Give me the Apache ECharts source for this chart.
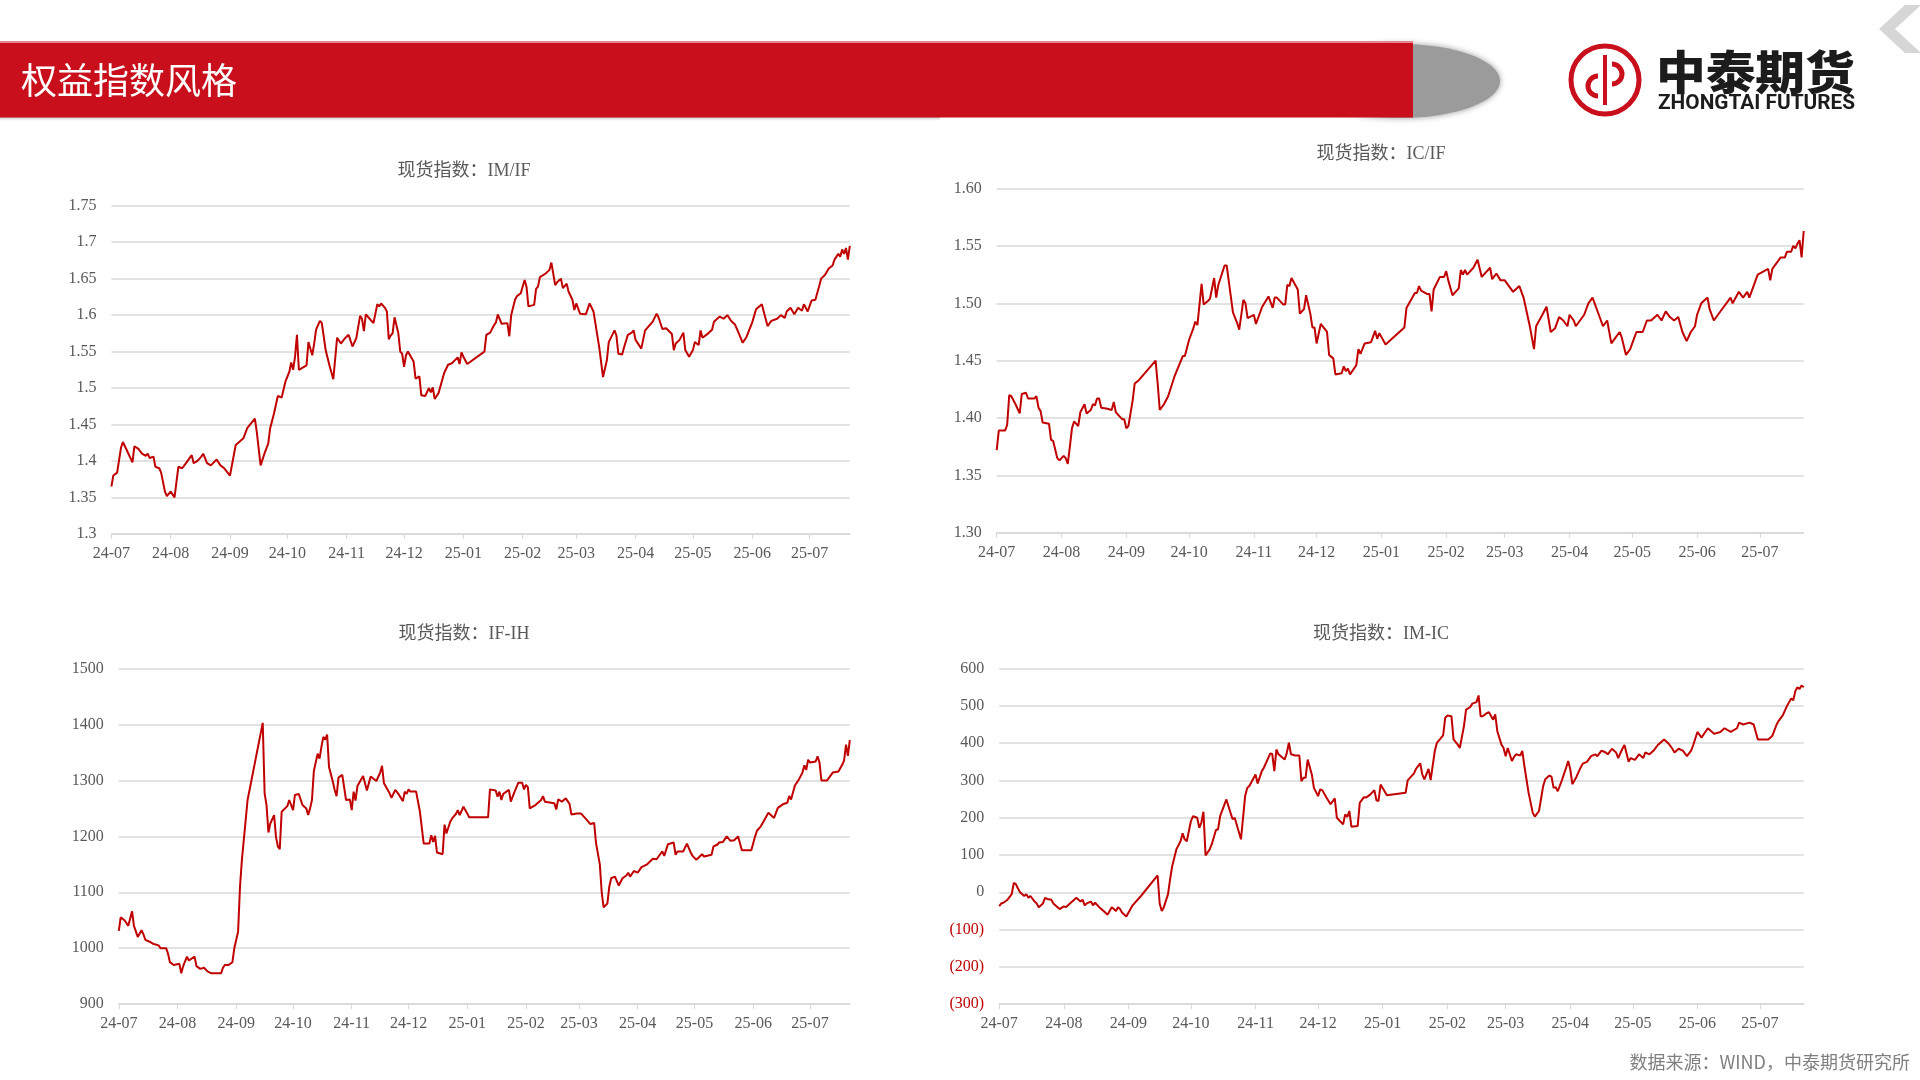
<!DOCTYPE html>
<html><head><meta charset="utf-8">
<script src="https://cdn.jsdelivr.net/npm/echarts@6/dist/echarts.min.js"></script>
<style>html,body{margin:0;padding:0;background:#fff}#c{width:1920px;height:1080px}</style>
</head><body><div id="c"></div>
<script>
// ---------------- data ----------------
const tickDates = ['2024-07-24','2024-08-24','2024-09-24','2024-10-24','2024-11-24','2024-12-24','2025-01-24','2025-02-24','2025-03-24','2025-04-24','2025-05-24','2025-06-24','2025-07-24'];
const axisStart = '2024-07-24';
const axisEnd = '2025-08-14';

const chartTitles = ['现货指数：IM/IF','现货指数：IC/IF','现货指数：IF-IH','现货指数：IM-IC'];

const IMIF = [['2024-07-24',1.365],['2024-07-25',1.380],['2024-07-27',1.384],['2024-07-29',1.418],['2024-07-30',1.426],['2024-08-01',1.415],['2024-08-04',1.398],['2024-08-05',1.420],['2024-08-07',1.417],['2024-08-09',1.410],['2024-08-11',1.407],['2024-08-12',1.410],['2024-08-13',1.404],['2024-08-15',1.406],['2024-08-16',1.392],['2024-08-18',1.390],['2024-08-19',1.384],['2024-08-21',1.358],['2024-08-22',1.352],['2024-08-24',1.358],['2024-08-26',1.350],['2024-08-28',1.392],['2024-08-30',1.390],['2024-09-01',1.397],['2024-09-04',1.408],['2024-09-05',1.397],['2024-09-07',1.400],['2024-09-09',1.406],['2024-09-10',1.410],['2024-09-12',1.397],['2024-09-14',1.394],['2024-09-17',1.402],['2024-09-19',1.394],['2024-09-21',1.390],['2024-09-24',1.380],['2024-09-27',1.422],['2024-10-01',1.431],['2024-10-03',1.445],['2024-10-07',1.458],['2024-10-08',1.440],['2024-10-10',1.394],['2024-10-12',1.410],['2024-10-14',1.424],['2024-10-15',1.445],['2024-10-17',1.465],['2024-10-19',1.489],['2024-10-21',1.487],['2024-10-22',1.488],['2024-10-23',1.509],['2024-10-25',1.522],['2024-10-26',1.535],['2024-10-27',1.525],['2024-10-28',1.543],['2024-10-29',1.573],['2024-10-30',1.525],['2024-11-03',1.531],['2024-11-04',1.563],['2024-11-06',1.545],['2024-11-07',1.561],['2024-11-08',1.580],['2024-11-10',1.592],['2024-11-11',1.589],['2024-11-13',1.552],['2024-11-15',1.531],['2024-11-17',1.512],['2024-11-19',1.569],['2024-11-20',1.570],['2024-11-21',1.561],['2024-11-23',1.568],['2024-11-25',1.573],['2024-11-27',1.557],['2024-11-29',1.568],['2024-12-01',1.599],['2024-12-02',1.595],['2024-12-03',1.578],['2024-12-04',1.601],['2024-12-06',1.595],['2024-12-08',1.589],['2024-12-10',1.615],['2024-12-11',1.612],['2024-12-12',1.616],['2024-12-14',1.610],['2024-12-15',1.605],['2024-12-16',1.567],['2024-12-17',1.572],['2024-12-18',1.575],['2024-12-19',1.597],['2024-12-21',1.575],['2024-12-22',1.550],['2024-12-23',1.547],['2024-12-24',1.529],['2024-12-25',1.545],['2024-12-26',1.550],['2024-12-28',1.541],['2024-12-29',1.536],['2024-12-30',1.513],['2025-01-01',1.516],['2025-01-02',1.490],['2025-01-04',1.489],['2025-01-06',1.500],['2025-01-07',1.494],['2025-01-08',1.501],['2025-01-09',1.485],['2025-01-11',1.493],['2025-01-14',1.521],['2025-01-15',1.523],['2025-01-16',1.532],['2025-01-18',1.534],['2025-01-19',1.535],['2025-01-21',1.542],['2025-01-22',1.533],['2025-01-23',1.549],['2025-01-24',1.543],['2025-01-26',1.533],['2025-02-04',1.550],['2025-02-05',1.573],['2025-02-07',1.576],['2025-02-09',1.586],['2025-02-10',1.590],['2025-02-11',1.601],['2025-02-13',1.588],['2025-02-14',1.586],['2025-02-16',1.589],['2025-02-17',1.571],['2025-02-18',1.600],['2025-02-20',1.621],['2025-02-21',1.626],['2025-02-23',1.630],['2025-02-25',1.648],['2025-02-26',1.639],['2025-02-27',1.612],['2025-03-02',1.614],['2025-03-03',1.636],['2025-03-04',1.639],['2025-03-05',1.652],['2025-03-06',1.652],['2025-03-08',1.657],['2025-03-10',1.662],['2025-03-11',1.672],['2025-03-13',1.641],['2025-03-14',1.645],['2025-03-16',1.650],['2025-03-17',1.637],['2025-03-19',1.643],['2025-03-20',1.632],['2025-03-22',1.621],['2025-03-23',1.607],['2025-03-24',1.616],['2025-03-26',1.602],['2025-03-29',1.601],['2025-03-31',1.616],['2025-04-02',1.605],['2025-04-05',1.556],['2025-04-07',1.515],['2025-04-09',1.538],['2025-04-10',1.563],['2025-04-13',1.579],['2025-04-14',1.572],['2025-04-15',1.547],['2025-04-16',1.548],['2025-04-17',1.546],['2025-04-18',1.556],['2025-04-20',1.573],['2025-04-22',1.576],['2025-04-23',1.579],['2025-04-24',1.566],['2025-04-25',1.568],['2025-04-27',1.554],['2025-04-29',1.579],['2025-05-03',1.591],['2025-05-05',1.602],['2025-05-06',1.597],['2025-05-07',1.597],['2025-05-08',1.581],['2025-05-10',1.582],['2025-05-11',1.583],['2025-05-13',1.574],['2025-05-14',1.552],['2025-05-15',1.561],['2025-05-17',1.566],['2025-05-19',1.576],['2025-05-20',1.552],['2025-05-22',1.543],['2025-05-24',1.552],['2025-05-25',1.563],['2025-05-27',1.559],['2025-05-28',1.579],['2025-05-29',1.569],['2025-06-01',1.575],['2025-06-03',1.580],['2025-06-04',1.591],['2025-06-05',1.590],['2025-06-07',1.598],['2025-06-09',1.595],['2025-06-11',1.600],['2025-06-13',1.592],['2025-06-15',1.587],['2025-06-17',1.575],['2025-06-19',1.562],['2025-06-21',1.570],['2025-06-24',1.590],['2025-06-26',1.608],['2025-06-29',1.615],['2025-07-01',1.595],['2025-07-02',1.585],['2025-07-04',1.592],['2025-07-07',1.595],['2025-07-09',1.600],['2025-07-11',1.596],['2025-07-12',1.605],['2025-07-14',1.610],['2025-07-16',1.601],['2025-07-18',1.610],['2025-07-20',1.606],['2025-07-21',1.615],['2025-07-23',1.605],['2025-07-25',1.620],['2025-07-27',1.621],['2025-07-29',1.640],['2025-07-30',1.650],['2025-08-01',1.655],['2025-08-03',1.664],['2025-08-05',1.668],['2025-08-06',1.676],['2025-08-08',1.684],['2025-08-09',1.680],['2025-08-10',1.690],['2025-08-11',1.684],['2025-08-12',1.692],['2025-08-13',1.676],['2025-08-14',1.695]];

const ICIF = [['2024-07-24',1.372],['2024-07-25',1.389],['2024-07-28',1.389],['2024-07-29',1.394],['2024-07-30',1.420],['2024-07-31',1.419],['2024-08-02',1.412],['2024-08-04',1.404],['2024-08-05',1.421],['2024-08-07',1.422],['2024-08-08',1.417],['2024-08-11',1.417],['2024-08-12',1.419],['2024-08-13',1.409],['2024-08-14',1.406],['2024-08-15',1.396],['2024-08-18',1.395],['2024-08-19',1.381],['2024-08-20',1.380],['2024-08-22',1.365],['2024-08-23',1.363],['2024-08-25',1.367],['2024-08-26',1.365],['2024-08-27',1.360],['2024-08-28',1.375],['2024-08-29',1.391],['2024-08-30',1.397],['2024-09-01',1.393],['2024-09-02',1.405],['2024-09-04',1.412],['2024-09-05',1.404],['2024-09-07',1.407],['2024-09-08',1.412],['2024-09-09',1.411],['2024-09-10',1.417],['2024-09-11',1.417],['2024-09-12',1.409],['2024-09-15',1.408],['2024-09-17',1.407],['2024-09-18',1.414],['2024-09-19',1.405],['2024-09-20',1.403],['2024-09-22',1.399],['2024-09-23',1.399],['2024-09-24',1.391],['2024-09-25',1.393],['2024-09-27',1.415],['2024-09-28',1.430],['2024-09-30',1.433],['2024-10-08',1.450],['2024-10-09',1.430],['2024-10-10',1.407],['2024-10-12',1.412],['2024-10-14',1.419],['2024-10-17',1.436],['2024-10-21',1.454],['2024-10-22',1.454],['2024-10-24',1.468],['2024-10-26',1.478],['2024-10-27',1.484],['2024-10-28',1.481],['2024-10-30',1.517],['2024-10-31',1.499],['2024-11-02',1.502],['2024-11-03',1.504],['2024-11-05',1.522],['2024-11-06',1.505],['2024-11-07',1.516],['2024-11-10',1.533],['2024-11-11',1.533],['2024-11-14',1.492],['2024-11-16',1.483],['2024-11-17',1.477],['2024-11-19',1.503],['2024-11-20',1.500],['2024-11-21',1.487],['2024-11-24',1.490],['2024-11-25',1.482],['2024-11-26',1.487],['2024-11-28',1.497],['2024-12-01',1.506],['2024-12-03',1.496],['2024-12-04',1.505],['2024-12-05',1.505],['2024-12-08',1.499],['2024-12-09',1.499],['2024-12-10',1.516],['2024-12-11',1.515],['2024-12-12',1.522],['2024-12-15',1.512],['2024-12-16',1.491],['2024-12-18',1.495],['2024-12-19',1.507],['2024-12-21',1.491],['2024-12-22',1.479],['2024-12-23',1.479],['2024-12-24',1.465],['2024-12-26',1.482],['2024-12-29',1.475],['2024-12-30',1.455],['2025-01-01',1.452],['2025-01-02',1.438],['2025-01-05',1.439],['2025-01-06',1.445],['2025-01-07',1.441],['2025-01-08',1.443],['2025-01-09',1.438],['2025-01-12',1.446],['2025-01-13',1.460],['2025-01-14',1.456],['2025-01-16',1.465],['2025-01-19',1.466],['2025-01-21',1.476],['2025-01-22',1.469],['2025-01-23',1.474],['2025-01-26',1.464],['2025-02-04',1.479],['2025-02-05',1.496],['2025-02-09',1.509],['2025-02-10',1.509],['2025-02-11',1.515],['2025-02-12',1.511],['2025-02-15',1.508],['2025-02-16',1.508],['2025-02-17',1.493],['2025-02-18',1.512],['2025-02-21',1.523],['2025-02-23',1.523],['2025-02-24',1.528],['2025-02-25',1.520],['2025-02-27',1.507],['2025-03-02',1.513],['2025-03-03',1.529],['2025-03-04',1.525],['2025-03-05',1.529],['2025-03-06',1.525],['2025-03-09',1.531],['2025-03-11',1.538],['2025-03-13',1.523],['2025-03-17',1.531],['2025-03-18',1.521],['2025-03-20',1.526],['2025-03-22',1.520],['2025-03-24',1.520],['2025-03-28',1.510],['2025-03-31',1.515],['2025-04-02',1.505],['2025-04-05',1.480],['2025-04-07',1.460],['2025-04-08',1.480],['2025-04-11',1.490],['2025-04-13',1.497],['2025-04-15',1.475],['2025-04-17',1.478],['2025-04-19',1.488],['2025-04-21',1.485],['2025-04-23',1.480],['2025-04-24',1.490],['2025-04-26',1.485],['2025-04-27',1.480],['2025-05-01',1.490],['2025-05-03',1.500],['2025-05-05',1.505],['2025-05-08',1.490],['2025-05-10',1.480],['2025-05-12',1.485],['2025-05-14',1.465],['2025-05-16',1.470],['2025-05-18',1.475],['2025-05-19',1.470],['2025-05-21',1.455],['2025-05-23',1.460],['2025-05-25',1.470],['2025-05-26',1.475],['2025-05-29',1.475],['2025-05-31',1.485],['2025-06-02',1.485],['2025-06-05',1.490],['2025-06-07',1.485],['2025-06-09',1.493],['2025-06-11',1.488],['2025-06-13',1.485],['2025-06-15',1.488],['2025-06-17',1.475],['2025-06-19',1.467],['2025-06-21',1.475],['2025-06-23',1.480],['2025-06-24',1.490],['2025-06-26',1.500],['2025-06-29',1.505],['2025-06-30',1.495],['2025-07-02',1.485],['2025-07-04',1.490],['2025-07-06',1.495],['2025-07-08',1.500],['2025-07-10',1.505],['2025-07-11',1.500],['2025-07-14',1.510],['2025-07-16',1.505],['2025-07-18',1.510],['2025-07-19',1.505],['2025-07-21',1.515],['2025-07-23',1.525],['2025-07-26',1.528],['2025-07-28',1.530],['2025-07-29',1.520],['2025-07-30',1.530],['2025-08-01',1.535],['2025-08-03',1.540],['2025-08-05',1.540],['2025-08-06',1.545],['2025-08-08',1.545],['2025-08-09',1.550],['2025-08-10',1.548],['2025-08-11',1.552],['2025-08-12',1.555],['2025-08-13',1.540],['2025-08-14',1.563]];

const IFIH = [['2024-07-24',1031],['2024-07-25',1055],['2024-07-27',1050],['2024-07-28',1045],['2024-07-29',1040],['2024-07-31',1066],['2024-08-01',1040],['2024-08-02',1030],['2024-08-03',1020],['2024-08-05',1032],['2024-08-06',1025],['2024-08-07',1015],['2024-08-09',1012],['2024-08-10',1015],['2024-08-11',1008],['2024-08-12',1010],['2024-08-14',1005],['2024-08-15',1000],['2024-08-18',1000],['2024-08-19',990],['2024-08-20',975],['2024-08-22',970],['2024-08-23',973],['2024-08-25',972],['2024-08-26',955],['2024-08-27',968],['2024-08-29',985],['2024-08-30',978],['2024-08-31',975],['2024-09-02',985],['2024-09-03',968],['2024-09-04',970],['2024-09-05',963],['2024-09-07',965],['2024-09-08',965],['2024-09-09',958],['2024-09-11',955],['2024-09-13',955],['2024-09-14',953],['2024-09-16',955],['2024-09-17',965],['2024-09-18',970],['2024-09-20',970],['2024-09-22',975],['2024-09-23',1000],['2024-09-25',1030],['2024-09-26',1110],['2024-09-27',1158],['2024-09-30',1265],['2024-10-08',1403],['2024-10-09',1277],['2024-10-10',1256],['2024-10-11',1207],['2024-10-12',1223],['2024-10-14',1238],['2024-10-15',1199],['2024-10-16',1182],['2024-10-17',1177],['2024-10-18',1244],['2024-10-19',1247],['2024-10-21',1254],['2024-10-22',1265],['2024-10-23',1265],['2024-10-24',1247],['2024-10-25',1274],['2024-10-27',1276],['2024-10-28',1278],['2024-10-29',1256],['2024-10-30',1256],['2024-10-31',1250],['2024-11-01',1238],['2024-11-02',1250],['2024-11-03',1265],['2024-11-04',1317],['2024-11-05',1318],['2024-11-06',1348],['2024-11-07',1339],['2024-11-08',1360],['2024-11-09',1378],['2024-11-10',1373],['2024-11-11',1382],['2024-11-12',1324],['2024-11-14',1298],['2024-11-15',1283],['2024-11-16',1272],['2024-11-17',1305],['2024-11-19',1310],['2024-11-20',1308],['2024-11-21',1265],['2024-11-23',1266],['2024-11-24',1247],['2024-11-25',1280],['2024-11-26',1264],['2024-11-27',1290],['2024-11-30',1308],['2024-12-02',1282],['2024-12-03',1284],['2024-12-04',1307],['2024-12-07',1299],['2024-12-09',1314],['2024-12-10',1326],['2024-12-11',1295],['2024-12-14',1277],['2024-12-15',1269],['2024-12-16',1269],['2024-12-17',1283],['2024-12-19',1274],['2024-12-21',1263],['2024-12-22',1280],['2024-12-23',1276],['2024-12-24',1284],['2024-12-25',1280],['2024-12-28',1280],['2024-12-30',1244],['2025-01-01',1187],['2025-01-04',1187],['2025-01-05',1202],['2025-01-06',1190],['2025-01-07',1201],['2025-01-08',1171],['2025-01-11',1168],['2025-01-12',1221],['2025-01-13',1205],['2025-01-15',1226],['2025-01-16',1232],['2025-01-18',1240],['2025-01-19',1247],['2025-01-20',1238],['2025-01-22',1253],['2025-01-24',1241],['2025-01-25',1234],['2025-02-04',1234],['2025-02-05',1284],['2025-02-08',1282],['2025-02-09',1271],['2025-02-10',1280],['2025-02-11',1265],['2025-02-12',1276],['2025-02-15',1283],['2025-02-16',1262],['2025-02-18',1280],['2025-02-20',1296],['2025-02-22',1296],['2025-02-23',1284],['2025-02-24',1292],['2025-02-25',1288],['2025-02-26',1250],['2025-03-01',1256],['2025-03-04',1265],['2025-03-05',1272],['2025-03-06',1262],['2025-03-11',1259],['2025-03-12',1248],['2025-03-13',1266],['2025-03-15',1262],['2025-03-16',1259],['2025-03-17',1268],['2025-03-19',1258],['2025-03-20',1239],['2025-03-23',1241],['2025-03-24',1240],['2025-03-25',1241],['2025-03-28',1230],['2025-03-30',1222],['2025-03-31',1224],['2025-04-01',1224],['2025-04-02',1188],['2025-04-04',1150],['2025-04-05',1100],['2025-04-06',1073],['2025-04-08',1080],['2025-04-09',1110],['2025-04-10',1125],['2025-04-12',1128],['2025-04-13',1120],['2025-04-14',1112],['2025-04-16',1125],['2025-04-18',1130],['2025-04-19',1135],['2025-04-20',1128],['2025-04-22',1138],['2025-04-24',1135],['2025-04-26',1145],['2025-04-29',1150],['2025-05-02',1160],['2025-05-04',1159],['2025-05-05',1164],['2025-05-07',1173],['2025-05-08',1165],['2025-05-10',1186],['2025-05-11',1189],['2025-05-13',1189],['2025-05-14',1167],['2025-05-15',1173],['2025-05-18',1173],['2025-05-20',1187],['2025-05-22',1171],['2025-05-23',1165],['2025-05-25',1158],['2025-05-26',1158],['2025-05-28',1168],['2025-05-29',1164],['2025-06-02',1167],['2025-06-03',1182],['2025-06-05',1185],['2025-06-06',1189],['2025-06-08',1190],['2025-06-10',1200],['2025-06-12',1192],['2025-06-14',1193],['2025-06-16',1200],['2025-06-18',1175],['2025-06-21',1175],['2025-06-23',1175],['2025-06-25',1200],['2025-06-26',1210],['2025-06-28',1218],['2025-06-29',1224],['2025-06-30',1225],['2025-07-02',1242],['2025-07-03',1239],['2025-07-05',1233],['2025-07-07',1251],['2025-07-08',1251],['2025-07-10',1258],['2025-07-12',1260],['2025-07-13',1272],['2025-07-14',1266],['2025-07-16',1291],['2025-07-18',1301],['2025-07-20',1314],['2025-07-21',1327],['2025-07-22',1319],['2025-07-23',1337],['2025-07-24',1332],['2025-07-27',1334],['2025-07-28',1343],['2025-07-29',1332],['2025-07-30',1300],['2025-08-02',1300],['2025-08-03',1301],['2025-08-05',1314],['2025-08-06',1316],['2025-08-08',1316],['2025-08-10',1328],['2025-08-11',1336],['2025-08-12',1364],['2025-08-13',1344],['2025-08-14',1372]];

const IMIC = [['2024-07-24',-37],['2024-07-25',-30],['2024-07-26',-28],['2024-07-28',-20],['2024-07-30',-5],['2024-07-31',25],['2024-08-01',22],['2024-08-02',10],['2024-08-03',0],['2024-08-05',-10],['2024-08-06',-5],['2024-08-07',-15],['2024-08-08',-10],['2024-08-10',-25],['2024-08-11',-30],['2024-08-12',-40],['2024-08-14',-30],['2024-08-15',-15],['2024-08-16',-18],['2024-08-18',-20],['2024-08-19',-30],['2024-08-21',-40],['2024-08-22',-45],['2024-08-24',-38],['2024-08-25',-40],['2024-08-26',-35],['2024-08-28',-25],['2024-08-29',-20],['2024-08-30',-15],['2024-09-01',-25],['2024-09-02',-20],['2024-09-03',-35],['2024-09-04',-30],['2024-09-06',-25],['2024-09-07',-35],['2024-09-08',-28],['2024-09-10',-40],['2024-09-11',-45],['2024-09-13',-55],['2024-09-14',-60],['2024-09-15',-50],['2024-09-16',-40],['2024-09-17',-45],['2024-09-18',-50],['2024-09-19',-40],['2024-09-20',-45],['2024-09-21',-55],['2024-09-23',-65],['2024-09-26',-35],['2024-09-30',-10],['2024-10-08',45],['2024-10-09',-30],['2024-10-10',-50],['2024-10-11',-40],['2024-10-13',-5],['2024-10-14',35],['2024-10-15',70],['2024-10-17',115],['2024-10-19',137],['2024-10-20',158],['2024-10-21',142],['2024-10-22',137],['2024-10-24',191],['2024-10-25',204],['2024-10-27',200],['2024-10-28',173],['2024-10-29',187],['2024-10-30',216],['2024-10-31',99],['2024-11-02',115],['2024-11-03',129],['2024-11-05',167],['2024-11-06',169],['2024-11-07',204],['2024-11-10',249],['2024-11-12',213],['2024-11-13',196],['2024-11-14',200],['2024-11-17',142],['2024-11-19',258],['2024-11-20',280],['2024-11-21',285],['2024-11-24',316],['2024-11-25',292],['2024-11-27',325],['2024-11-28',334],['2024-12-01',372],['2024-12-02',371],['2024-12-03',325],['2024-12-04',383],['2024-12-05',370],['2024-12-08',356],['2024-12-09',374],['2024-12-10',401],['2024-12-11',370],['2024-12-13',367],['2024-12-15',367],['2024-12-16',298],['2024-12-17',307],['2024-12-18',307],['2024-12-19',356],['2024-12-21',316],['2024-12-22',280],['2024-12-24',258],['2024-12-25',276],['2024-12-26',274],['2024-12-28',254],['2024-12-30',236],['2025-01-01',252],['2025-01-02',200],['2025-01-05',182],['2025-01-06',209],['2025-01-07',202],['2025-01-08',218],['2025-01-09',176],['2025-01-12',178],['2025-01-13',240],['2025-01-15',255],['2025-01-16',254],['2025-01-18',262],['2025-01-20',274],['2025-01-21',247],['2025-01-22',245],['2025-01-23',289],['2025-01-26',260],['2025-02-04',267],['2025-02-05',300],['2025-02-08',319],['2025-02-09',331],['2025-02-11',346],['2025-02-12',316],['2025-02-13',303],['2025-02-15',331],['2025-02-16',301],['2025-02-18',379],['2025-02-19',401],['2025-02-22',421],['2025-02-23',468],['2025-02-24',474],['2025-02-26',472],['2025-02-27',410],['2025-03-01',396],['2025-03-02',387],['2025-03-04',446],['2025-03-05',490],['2025-03-07',497],['2025-03-08',506],['2025-03-10',510],['2025-03-11',528],['2025-03-12',472],['2025-03-13',472],['2025-03-15',481],['2025-03-16',483],['2025-03-18',463],['2025-03-19',477],['2025-03-20',432],['2025-03-22',396],['2025-03-23',387],['2025-03-24',365],['2025-03-25',387],['2025-03-27',352],['2025-03-28',363],['2025-03-29',370],['2025-03-31',367],['2025-04-01',379],['2025-04-02',338],['2025-04-04',267],['2025-04-06',213],['2025-04-07',203],['2025-04-09',218],['2025-04-11',285],['2025-04-12',303],['2025-04-14',313],['2025-04-15',310],['2025-04-16',280],['2025-04-17',282],['2025-04-18',271],['2025-04-20',301],['2025-04-22',334],['2025-04-23',352],['2025-04-24',330],['2025-04-25',290],['2025-04-27',310],['2025-04-29',335],['2025-04-30',345],['2025-05-02',350],['2025-05-04',365],['2025-05-06',370],['2025-05-07',365],['2025-05-09',380],['2025-05-11',375],['2025-05-12',370],['2025-05-14',385],['2025-05-16',375],['2025-05-17',360],['2025-05-19',385],['2025-05-20',395],['2025-05-22',350],['2025-05-23',360],['2025-05-25',355],['2025-05-27',370],['2025-05-29',360],['2025-05-30',375],['2025-06-01',370],['2025-06-03',380],['2025-06-05',395],['2025-06-06',400],['2025-06-08',410],['2025-06-10',400],['2025-06-12',385],['2025-06-13',375],['2025-06-15',385],['2025-06-17',380],['2025-06-19',365],['2025-06-21',380],['2025-06-22',395],['2025-06-24',430],['2025-06-26',415],['2025-06-29',440],['2025-07-02',425],['2025-07-05',430],['2025-07-07',440],['2025-07-10',430],['2025-07-13',440],['2025-07-14',455],['2025-07-16',450],['2025-07-19',455],['2025-07-21',450],['2025-07-23',410],['2025-07-25',410],['2025-07-28',410],['2025-07-30',420],['2025-08-01',450],['2025-08-02',460],['2025-08-04',475],['2025-08-06',500],['2025-08-08',520],['2025-08-09',515],['2025-08-10',540],['2025-08-11',550],['2025-08-12',545],['2025-08-13',555],['2025-08-14',550]];

// ---------------- chart ----------------
const ts = s => { const p = s.split('-').map(Number); return new Date(p[0], p[1]-1, p[2]).getTime(); };
const tickTs = tickDates.map(ts);
const RED = '#c00000', GRID = '#d9d9d9', TXT = '#595959';
const SERIF = "'Liberation Serif','Times New Roman',serif";
const CJK = "'Noto Sans CJK SC','Noto Sans',sans-serif";

const grids = [
  {left:111.4, top:205.7, width:738.4, height:328.2},
  {left:996.7, top:188.6, width:807, height:344.1},
  {left:118.8, top:668.6, width:731, height:335.5},
  {left:999.2, top:668.6, width:804.5, height:335.5}
];
const yCfg = [
  {min:1.3, max:1.75, interval:0.05, fmt:v => String(+(+v).toFixed(2))},
  {min:1.3, max:1.6, interval:0.05, fmt:v => (+v).toFixed(2)},
  {min:900, max:1500, interval:100, fmt:v => String(v)},
  {min:-300, max:600, interval:100, fmt:v => v < 0 ? '(' + Math.abs(v) + ')' : String(v)}
];
const seriesData = [IMIF, ICIF, IFIH, IMIC].map(arr => arr.map(p => [ts(p[0]), p[1]]));
const fmtDate = v => { const d = new Date(v); return String(d.getFullYear()).slice(2) + '-' + String(d.getMonth()+1).padStart(2,'0'); };

const xAxes = grids.map((g,i) => ({
  type:'value', gridIndex:i, min:ts(axisStart), max:ts(axisEnd), scale:true,
  axisLine:{onZero:false, lineStyle:{color:GRID, width:1.5}},
  axisTick:{show:true, length:5, customValues:tickTs, lineStyle:{color:GRID, width:1.2}},
  axisLabel:{customValues:tickTs, formatter:fmtDate, color:TXT, fontSize:16, fontFamily:SERIF, margin:12, showMinLabel:true, showMaxLabel:true},
  splitLine:{show:false}
}));
const yAxes = yCfg.map((c,i) => ({
  type:'value', gridIndex:i, min:c.min, max:c.max, interval:c.interval,
  axisLine:{show:false}, axisTick:{show:false},
  axisLabel:{formatter:c.fmt, fontSize:16, fontFamily:SERIF, margin:15,
    color: (v) => (i === 3 && Number(v) < 0) ? '#c00000' : TXT},
  splitLine:{lineStyle:{color:GRID, width:1.5}}
}));
const series = seriesData.map((d,i) => ({
  type:'line', xAxisIndex:i, yAxisIndex:i, data:d, showSymbol:false, symbol:'none',
  lineStyle:{color:RED, width:2}, itemStyle:{color:RED}, animation:false, silent:true
}));

const titlePos = [[464,171.5],[1381,154.5],[464,634.5],[1381,634.5]];
const graphics = [
  {type:'circle', x:1400, y:81, scaleX:100/37, scaleY:1, shape:{cx:0, cy:0, r:37}, style:{fill:'#9b9b9b', shadowBlur:6, shadowColor:'#9b9b9b'}, z:1},
  {type:'rect', shape:{x:0, y:117, width:940, height:5}, style:{fill:new echarts.graphic.LinearGradient(0,0,0,1,[{offset:0,color:'#bdbdbd'},{offset:1,color:'rgba(255,255,255,0)'}])}, z:1},
  {type:'rect', shape:{x:0, y:41.5, width:1413, height:76}, style:{fill:'#c80f1b'}, z:2},
  {type:'rect', shape:{x:0, y:41.5, width:1413, height:1.5}, style:{fill:'#e58a90'}, z:3},
  {type:'text', x:21, y:80, style:{text:'权益指数风格', fill:'#ffffff', font:'36px ' + CJK, align:'left', verticalAlign:'middle'}, z:4},
  {type:'polygon', shape:{points:[[1879,29],[1905,5],[1921,5],[1895,29],[1921,53],[1905,53]]}, style:{fill:'#d6d6d6'}, z:2},
  {type:'circle', shape:{cx:1605, cy:80, r:34}, style:{fill:'#ffffff', stroke:'#c80f1b', lineWidth:5}, z:3},
  {type:'arc', shape:{cx:1598, cy:86, r:10, startAngle:Math.PI*0.5, endAngle:Math.PI*1.5, clockwise:true}, style:{stroke:'#c80f1b', lineWidth:5, fill:null}, z:4},
  {type:'arc', shape:{cx:1612, cy:74, r:10, startAngle:-Math.PI*0.5, endAngle:Math.PI*0.5, clockwise:true}, style:{stroke:'#c80f1b', lineWidth:5, fill:null}, z:4},
  {type:'line', shape:{x1:1605, y1:55, x2:1605, y2:105}, style:{stroke:'#c80f1b', lineWidth:4}, z:4},
  {type:'text', x:1656, y:72, scaleX:1.08, style:{text:'中泰期货', fill:'#1c1c1c', font:'900 46px ' + CJK, align:'left', verticalAlign:'middle'}, z:4},
  {type:'text', x:1658, y:104, scaleX:1.04, style:{text:'ZHONGTAI FUTURES', fill:'#1c1c1c', font:'bold 20px Roboto, sans-serif', align:'left', verticalAlign:'middle'}, z:4},
  {type:'text', x:1910, y:1062, style:{text:'数据来源：WIND，中泰期货研究所', fill:'#7f7f7f', font:'18px ' + CJK, align:'right', verticalAlign:'middle'}, z:4}
];
chartTitles.forEach((t,i) => graphics.push({type:'text', x:titlePos[i][0], y:titlePos[i][1],
  style:{text:t, fill:TXT, font:'18px ' + SERIF + ',' + CJK, align:'center', verticalAlign:'middle'}, z:4}));

const chart = echarts.init(document.getElementById('c'), null, {renderer:'canvas', width:1920, height:1080});
chart.setOption({
  animation:false, backgroundColor:'#ffffff',
  grid:grids, xAxis:xAxes, yAxis:yAxes, series:series, graphic:graphics
});
</script></body></html>
